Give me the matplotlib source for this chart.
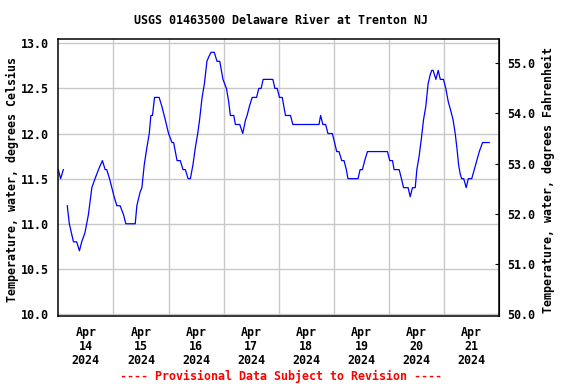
import numpy as np
import matplotlib.pyplot as plt

# hours since 2024-04-14 00:00 (EDT), water temperature in deg C
# NaN marks the short gap in the record
hours = [0.0, 1.0, 2.2, np.nan,
         3.9, 4.8, 6.6, 8.0, 9.2, 10.2, 11.6, 13.1, 14.6, 16.0, 17.5, 19.2,
         20.4, 21.1, 22.3, 24.3, 25.5, 26.9, 28.4, 29.4, 33.5, 34.2, 35.6,
         36.4, 37.4, 38.6, 39.6, 40.3, 41.0, 41.9, 43.9, 45.1, 46.6, 48.0,
         49.5, 50.2, 51.7, 53.1, 54.3, 55.3, 56.5, 57.5, 58.6, 59.7, 60.7,
         61.5, 62.6, 63.6, 64.7, 65.5, 66.5, 67.9, 69.1, 70.3, 71.7, 73.2,
         74.2, 74.9, 76.4, 77.1, 79.0, 80.3, 81.5, 82.2, 83.2, 84.4, 86.3,
         87.3, 88.3, 89.2, 93.4, 94.3, 95.3, 96.3, 97.5, 98.2, 98.9, 101.1,
         102.1, 113.5, 114.2, 115.2, 116.4, 117.4, 119.3, 120.3, 121.2,
         122.2, 123.4, 124.4, 125.4, 126.1, 130.5, 131.4, 132.4, 133.4,
         134.6, 143.3, 144.3, 145.5, 146.2, 148.4, 149.4, 150.3, 152.3,
         153.2, 154.2, 155.4, 156.1, 157.1, 158.1, 159.0, 160.0, 161.0,
         161.9, 162.6, 163.2, 164.4, 165.4, 166.3, 167.7, 168.7, 169.8,
         170.9, 171.9, 172.8, 173.5, 174.3, 175.0, 175.6, 176.5, 177.6,
         178.5, 180.0, 181.1, 182.2, 183.3, 184.7, 187.6]
temp_c = [11.6, 11.5, 11.6, np.nan,
          11.2, 11.0, 10.8, 10.8, 10.7, 10.8, 10.9, 11.1, 11.4, 11.5, 11.6, 11.7,
          11.6, 11.6, 11.5, 11.3, 11.2, 11.2, 11.1, 11.0, 11.0, 11.2, 11.35,
          11.4, 11.65, 11.85, 12.0, 12.2, 12.2, 12.4, 12.4, 12.3, 12.15, 12.0,
          11.9, 11.9, 11.7, 11.7, 11.6, 11.6, 11.5, 11.5, 11.65, 11.85, 12.0,
          12.15, 12.4, 12.55, 12.8, 12.85, 12.9, 12.9, 12.8, 12.8, 12.6, 12.5,
          12.35, 12.2, 12.2, 12.1, 12.1, 12.0, 12.15, 12.2, 12.3, 12.4, 12.4,
          12.5, 12.5, 12.6, 12.6, 12.5, 12.5, 12.4, 12.4, 12.3, 12.2, 12.2,
          12.1, 12.1, 12.2, 12.1, 12.1, 12.0, 12.0, 11.9, 11.8,
          11.8, 11.7, 11.7, 11.6, 11.5, 11.5, 11.6, 11.6, 11.7,
          11.8, 11.8, 11.7, 11.7, 11.6, 11.6, 11.5, 11.4, 11.4,
          11.3, 11.4, 11.4, 11.6, 11.75, 11.95, 12.15, 12.3, 12.55,
          12.65, 12.7, 12.7, 12.6, 12.7, 12.6, 12.6, 12.5, 12.35,
          12.25, 12.15, 12.0, 11.85, 11.65, 11.55, 11.5, 11.5, 11.4,
          11.5, 11.5, 11.6, 11.7, 11.8, 11.9, 11.9]

day_labels = ['Apr\n14\n2024', 'Apr\n15\n2024', 'Apr\n16\n2024', 'Apr\n17\n2024',
              'Apr\n18\n2024', 'Apr\n19\n2024', 'Apr\n20\n2024', 'Apr\n21\n2024']
c_ticks = [10.0, 10.5, 11.0, 11.5, 12.0, 12.5, 13.0]
f_ticks = [50, 51, 52, 53, 54, 55]


def c2f(c):
    return c * 9.0 / 5.0 + 32.0


def f2c(f):
    return (f - 32.0) * 5.0 / 9.0


plt.rcParams['font.family'] = 'DejaVu Sans Mono'
plt.rcParams['font.weight'] = 'bold'
plt.rcParams['font.size'] = 8.4

fig = plt.figure(figsize=(5.76, 3.84), dpi=100)
ax = fig.add_axes([58.3 / 576, 1 - 316 / 384, 441 / 576, 276.7 / 384])

ax.plot(hours, temp_c, color='#0000ff', lw=0.9)

ax.set_xlim(0, 192)
ax.set_ylim(9.978, 13.044)

ax.set_yticks(c_ticks)
ax.set_yticklabels(['%.1f' % v for v in c_ticks])
ax.tick_params(axis='y', length=0, pad=7)

ax.set_xticks(range(24, 192, 24))
ax.set_xticklabels([])
ax.tick_params(axis='x', which='major', length=0)
ax.set_xticks(range(12, 192, 24), minor=True)
ax.set_xticklabels(day_labels, minor=True)
ax.tick_params(axis='x', which='minor', length=0, pad=7)
for lbl in ax.get_xticklabels(minor=True):
    lbl.set_linespacing(1.12)

ax.grid(True, which='major', color='#c8c8c8', lw=1.0)
ax.set_axisbelow(True)
for sp in ax.spines.values():
    sp.set_linewidth(1.1)

sec = ax.secondary_yaxis('right', functions=(c2f, f2c))
sec.set_yticks(f_ticks)
sec.set_yticklabels(['%.1f' % v for v in f_ticks])
sec.tick_params(direction='in', length=3, pad=6)

fig.text(281 / 576, 1 - 20 / 384, 'USGS 01463500 Delaware River at Trenton NJ',
         ha='center', va='center')
fig.text(12 / 576, 1 - 180 / 384, 'Temperature, water, degrees Celsius',
         rotation=90, ha='center', va='center')
fig.text(548 / 576, 1 - 180 / 384, 'Temperature, water, degrees Fahrenheit',
         rotation=90, ha='center', va='center')
fig.text(281 / 576, 1 - 376 / 384, '---- Provisional Data Subject to Revision ----',
         color='red', ha='center', va='center')

fig.savefig('out.png', dpi=100)
